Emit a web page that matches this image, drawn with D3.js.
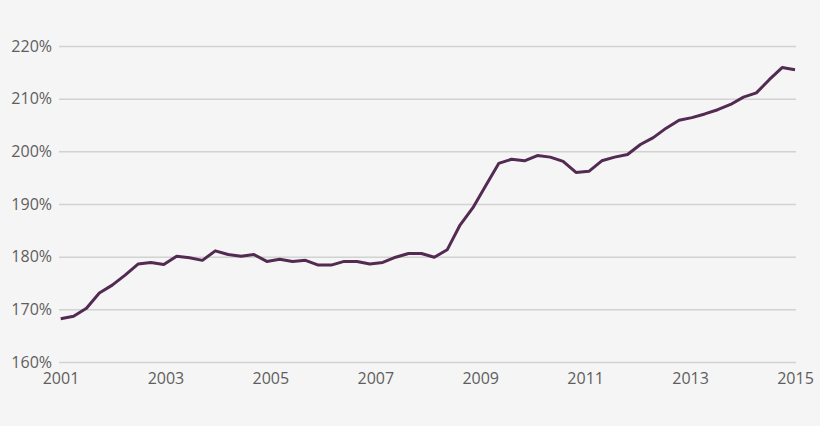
<!DOCTYPE html>
<html>
<head>
<meta charset="utf-8">
<script src="https://cdn.jsdelivr.net/npm/d3@7"></script>
<style>
  html, body { margin: 0; padding: 0; background: #f5f5f5; }
  svg { display: block; }
  .tick text { font-family: "Open Sans", Lato, sans-serif; font-size: 16px; fill: #5e5e5e; }
</style>
</head>
<body>
<div id="chart"></div>
<script>
// quarterly ratio values, 2001 Q1 .. 2015 Q2
const quarters = [];
for (let y = 2001; y <= 2015; y++) {
  ['Q1', 'Q2', 'Q3', 'Q4'].forEach(q => quarters.push(y + ' ' + q));
}
quarters.splice(58); // last quarter shown is 2015 Q2

const values = [
  168.2, 168.7, 170.2, 173.1, 174.6, 176.5, 178.6, 178.9,
  178.5, 180.1, 179.8, 179.3, 181.1, 180.4, 180.1, 180.4,
  179.1, 179.5, 179.1, 179.3, 178.4, 178.4, 179.1, 179.1,
  178.6, 178.9, 179.9, 180.6, 180.6, 179.9, 181.3, 186.0,
  189.3, 193.5, 197.7, 198.5, 198.2, 199.2, 198.9, 198.1,
  196.0, 196.2, 198.2, 198.9, 199.4, 201.3, 202.6, 204.4,
  205.9, 206.4, 207.1, 207.9, 208.9, 210.3, 211.1, 213.6,
  215.9, 215.5
];

const yearTicks = [2001, 2003, 2005, 2007, 2009, 2011, 2013, 2015];
const pctTicks = [160, 170, 180, 190, 200, 210, 220];

const width = 820, height = 426;

const svg = d3.select('#chart').append('svg')
    .attr('width', width)
    .attr('height', height);

const x = d3.scalePoint().domain(quarters).range([60.7, 795]);
const xYear = d3.scaleLinear().domain([2001, 2015]).range([60.5, 795]);
const y = d3.scaleLinear().domain([160, 220]).range([362, 46]);

// gridlines + y labels
const yAxis = svg.append('g')
    .attr('transform', 'translate(59,0)')
    .call(d3.axisLeft(y).tickValues(pctTicks).tickSize(-737).tickPadding(7)
      .tickFormat(d => d + '%'));
yAxis.select('.domain').remove();
yAxis.selectAll('.tick line').attr('stroke', '#d2d2d2').attr('stroke-width', 1.5);

// x labels
const xAxis = svg.append('g')
    .attr('transform', 'translate(0,362)')
    .call(d3.axisBottom(xYear).tickValues(yearTicks).tickSize(0).tickPadding(11)
      .tickFormat(d3.format('d')));
xAxis.select('.domain').remove();

// line
const line = d3.line()
    .x((d, i) => x(quarters[i]))
    .y(d => y(d));

svg.append('path')
    .datum(values)
    .attr('fill', 'none')
    .attr('stroke', '#522a52')
    .attr('stroke-width', 3)
    .attr('stroke-linejoin', 'round')
    .attr('d', line);
</script>
</body>
</html>
